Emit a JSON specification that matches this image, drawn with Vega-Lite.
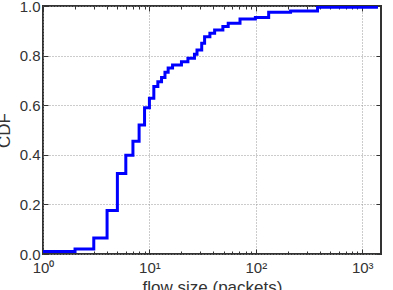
{
  "$schema": "https://vega.github.io/schema/vega-lite/v6.json",
  "width": 338,
  "height": 248,
  "autosize": "none",
  "padding": {"left": 43, "top": 6, "right": 12, "bottom": 36},
  "background": "white",
  "config": {
    "font": "Liberation Sans",
    "view": {"stroke": "#333", "strokeWidth": 2},
    "axis": {
      "labelFont": "Liberation Sans",
      "titleFont": "Liberation Sans",
      "labelFontSize": 15,
      "titleFontSize": 17,
      "titleFontWeight": "normal",
      "labelColor": "#333",
      "titleColor": "#333",
      "domain": false,
      "tickColor": "#333",
      "tickWidth": 1,
      "gridColor": "#999",
      "gridDash": [1, 2],
      "gridWidth": 1,
      "gridOpacity": 1
    }
  },
  "data": {
    "values": [
      {"size": 1, "cdf": 0.01},
      {"size": 2, "cdf": 0.02},
      {"size": 3, "cdf": 0.065},
      {"size": 4, "cdf": 0.175},
      {"size": 5, "cdf": 0.325},
      {"size": 6, "cdf": 0.398},
      {"size": 7, "cdf": 0.455},
      {"size": 8, "cdf": 0.52},
      {"size": 9, "cdf": 0.59},
      {"size": 10, "cdf": 0.628},
      {"size": 11, "cdf": 0.675},
      {"size": 12, "cdf": 0.695},
      {"size": 13, "cdf": 0.712},
      {"size": 14, "cdf": 0.733},
      {"size": 15, "cdf": 0.75},
      {"size": 16.5, "cdf": 0.762},
      {"size": 20, "cdf": 0.775},
      {"size": 23, "cdf": 0.789},
      {"size": 26.5, "cdf": 0.805},
      {"size": 28, "cdf": 0.823},
      {"size": 31, "cdf": 0.85},
      {"size": 33, "cdf": 0.876},
      {"size": 37, "cdf": 0.89},
      {"size": 41, "cdf": 0.903},
      {"size": 49, "cdf": 0.917},
      {"size": 55, "cdf": 0.93},
      {"size": 71, "cdf": 0.948},
      {"size": 99, "cdf": 0.954},
      {"size": 132, "cdf": 0.975},
      {"size": 212, "cdf": 0.98},
      {"size": 380, "cdf": 0.995},
      {"size": 1360, "cdf": 1.0}
    ]
  },
  "resolve": {"axis": {"x": "independent", "y": "independent"}},
  "layer": [
    {
      "mark": {"type": "line", "interpolate": "step-after", "strokeOpacity": 0},
      "encoding": {
        "x": {
          "field": "size", "type": "quantitative",
          "scale": {"type": "log", "domain": [1, 1500], "nice": false},
          "axis": {"orient": "top", "values": [1, 10, 100, 1000], "labels": false, "grid": false, "title": null, "tickSize": -5}
        },
        "y": {
          "field": "cdf", "type": "quantitative",
          "scale": {"domain": [0, 1], "nice": false},
          "axis": {"orient": "right", "values": [0, 0.2, 0.4, 0.6, 0.8, 1.0], "labels": false, "grid": false, "title": null, "tickSize": -5}
        }
      }
    },
    {
      "mark": {"type": "line", "interpolate": "step-after", "strokeOpacity": 0},
      "encoding": {
        "x": {
          "field": "size", "type": "quantitative",
          "scale": {"type": "log", "domain": [1, 1500], "nice": false},
          "axis": {"orient": "top", "values": [2, 3, 4, 5, 6, 7, 8, 9, 20, 30, 40, 50, 60, 70, 80, 90, 200, 300, 400, 500, 600, 700, 800, 900], "labels": false, "grid": false, "title": null, "tickSize": -3}
        },
        "y": {"field": "cdf", "type": "quantitative", "scale": {"domain": [0, 1], "nice": false}, "axis": null}
      }
    },
    {
      "mark": {"type": "line", "interpolate": "step-after", "strokeOpacity": 0},
      "encoding": {
        "x": {
          "field": "size", "type": "quantitative",
          "scale": {"type": "log", "domain": [1, 1500], "nice": false},
          "axis": {"orient": "bottom", "values": [2, 3, 4, 5, 6, 7, 8, 9, 20, 30, 40, 50, 60, 70, 80, 90, 200, 300, 400, 500, 600, 700, 800, 900], "labels": false, "grid": false, "title": null, "tickSize": -3}
        },
        "y": {"field": "cdf", "type": "quantitative", "scale": {"domain": [0, 1], "nice": false}, "axis": null}
      }
    },
    {
      "mark": {"type": "line", "interpolate": "step-after", "color": "#0000ff", "strokeWidth": 3, "clip": true},
      "encoding": {
        "x": {
          "field": "size", "type": "quantitative",
          "scale": {"type": "log", "domain": [1, 1500], "nice": false},
          "axis": {
            "orient": "bottom",
            "values": [1, 10, 100, 1000],
            "labelExpr": "'10' + ['⁰','¹','²','³'][round(log(datum.value)/LN10)]",
            "title": "flow size (packets)",
            "grid": true,
            "tickSize": -5,
            "labelPadding": 11,
            "titlePadding": 4,
            "labelFlush": false
          }
        },
        "y": {
          "field": "cdf", "type": "quantitative",
          "scale": {"domain": [0, 1], "nice": false},
          "axis": {
            "orient": "left",
            "values": [0, 0.2, 0.4, 0.6, 0.8, 1.0],
            "format": ".1f",
            "title": "CDF",
            "grid": true,
            "tickSize": -5,
            "labelPadding": 8,
            "titlePadding": 6,
            "labelFlush": false
          }
        }
      }
    }
  ]
}
